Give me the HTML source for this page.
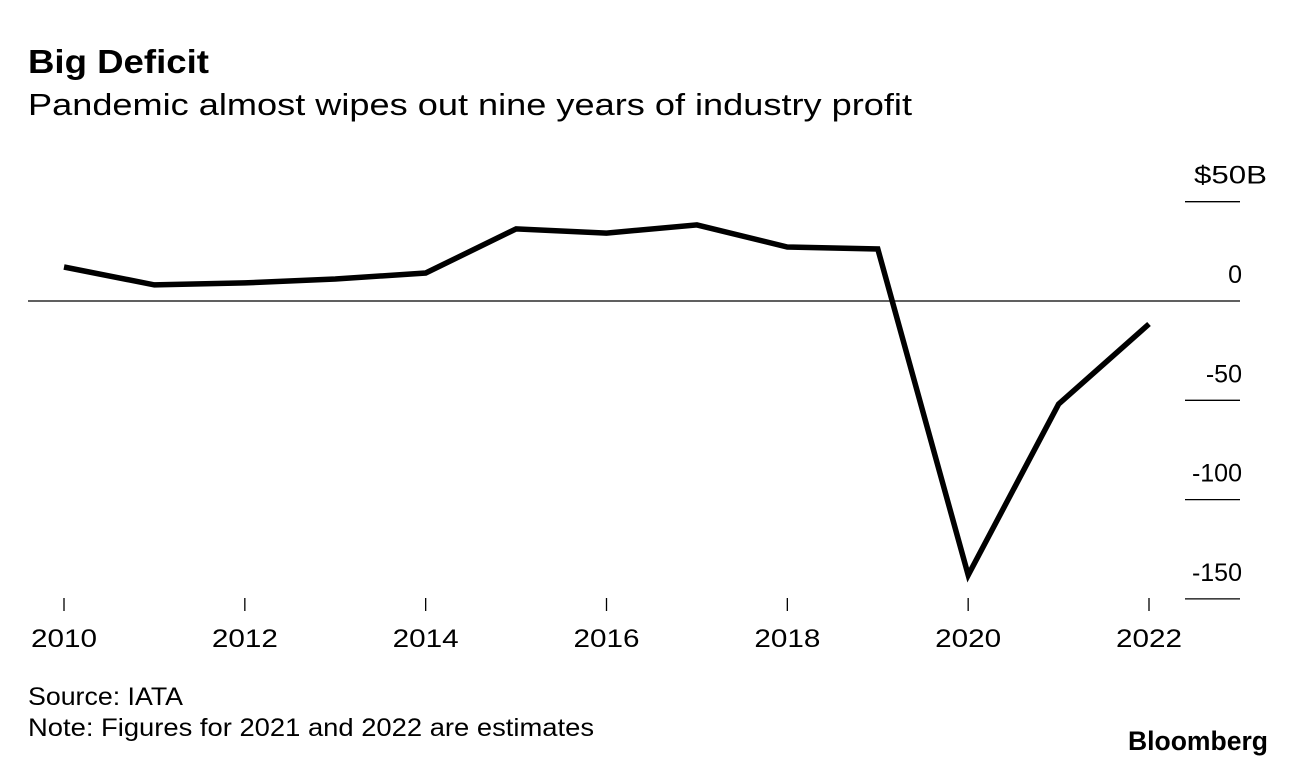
<!DOCTYPE html>
<html><head><meta charset="utf-8"><style>
body{margin:0;background:#fff;font-family:"Liberation Sans",Arial,sans-serif;}
svg{display:block}
</style></head><body>
<svg width="1296" height="766" xmlns="http://www.w3.org/2000/svg" font-family="Liberation Sans, Arial, sans-serif">
<text x="28" y="73" font-size="33" font-weight="bold" fill="#000" textLength="181" lengthAdjust="spacingAndGlyphs">Big Deficit</text>
<text x="28" y="115" font-size="31" fill="#000" textLength="884" lengthAdjust="spacingAndGlyphs">Pandemic almost wipes out nine years of industry profit</text>
<g id="axes"></g>
<path id="line" fill="none" stroke="#000" stroke-width="5.5" stroke-linejoin="miter"/>
<text x="28" y="705" font-size="25" fill="#000" textLength="155" lengthAdjust="spacingAndGlyphs">Source: IATA</text>
<text x="28" y="736" font-size="25" fill="#000" textLength="566" lengthAdjust="spacingAndGlyphs">Note: Figures for 2021 and 2022 are estimates</text>
<text x="1128" y="750" font-size="27" font-weight="bold" fill="#000" textLength="140" lengthAdjust="spacingAndGlyphs">Bloomberg</text>
</svg>
<script>
const years=[2010,2011,2012,2013,2014,2015,2016,2017,2018,2019,2020,2021,2022];
const profits=[17.1,8.1,9.1,11.1,14.1,36.3,34.2,38.3,27.2,26.2,-138,-51.9,-11.6];
const yTicks=[50,0,-50,-100,-150];
const yTickLabels=["$50B","0","-50","-100","-150"];
const xTicks=[2010,2012,2014,2016,2018,2020,2022];
const NS="http://www.w3.org/2000/svg";
function xs(v){return 64+(v-2010)*(1149-64)/12;}
function ys(v){return 301-v*(99.3/50);}
const g=document.getElementById('axes');
function mk(t,a){const e=document.createElementNS(NS,t);for(const k in a)e.setAttribute(k,a[k]);g.appendChild(e);return e;}
yTicks.forEach((v,i)=>{
  const y=ys(v);
  const l=mk('line',{x1:v===0?28:1185,x2:1240,y1:y,y2:y,stroke:'#000','stroke-width':1.3});
  
  
  const t=i===0?mk('text',{x:1194,y:y-18,'font-size':25,fill:'#000',textLength:73,lengthAdjust:'spacingAndGlyphs'}):mk('text',{x:1242,y:y-18,'font-size':25,'text-anchor':'end',fill:'#000'});
  t.textContent=yTickLabels[i];
  
  
});
xTicks.forEach(v=>{
  const x=xs(v);
  const l=mk('line',{x1:x,x2:x,y1:598,y2:611,stroke:'#000','stroke-width':1.3});
  
  
  const t=mk('text',{x:x,y:647,'font-size':25,'text-anchor':'middle',fill:'#000',textLength:66,lengthAdjust:'spacingAndGlyphs'});
  t.textContent=v;
  
  
});
document.getElementById('line').setAttribute('d',years.map((yr,i)=>(i?'L':'M')+xs(yr).toFixed(1)+','+ys(profits[i]).toFixed(1)).join(' '));
</script>
</body></html>
